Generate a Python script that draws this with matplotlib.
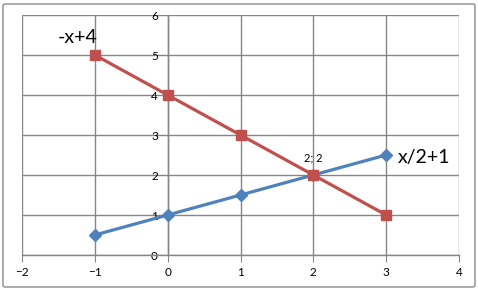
import matplotlib

matplotlib.use("Agg")

import matplotlib.pyplot as plt
from matplotlib.patches import FancyBboxPatch

# data
x_vals = [-1, 0, 1, 2, 3]
line_half = [0.5, 1, 1.5, 2, 2.5]   # x/2+1
line_neg = [5, 4, 3, 2, 1]          # -x+4
x_ticks = [-2, -1, 0, 1, 2, 3, 4]
y_ticks = [0, 1, 2, 3, 4, 5, 6]
cross_pt = (2, 2)

BLUE = "#4F81BD"
RED = "#C0504D"
GRID = "#868686"

plt.rcParams["font.family"] = ["Lato", "DejaVu Sans"]

fig = plt.figure(figsize=(4.78, 2.90), dpi=100)
ax = fig.add_axes([22 / 478, 1 - 255 / 290, (459 - 22) / 478, (255 - 15) / 290])

ax.plot(x_vals, line_half, color=BLUE, lw=2.3, marker="D", ms=6, zorder=3)
ax.plot(x_vals, line_neg, color=RED, lw=2.3, marker="s", ms=6.5, zorder=4)

ax.set_xlim(-2, 4)
ax.set_ylim(0, 6)
ax.set_xticks(x_ticks)
ax.set_yticks(y_ticks)
ax.grid(True, color=GRID, lw=1, zorder=0)

# axes cross at origin, like Excel
ax.spines["left"].set_position(("data", 0))
ax.spines["right"].set_visible(False)
ax.spines["top"].set_visible(False)
for s in ("left", "bottom"):
    ax.spines[s].set_color(GRID)
    ax.spines[s].set_linewidth(1)

ax.tick_params(axis="x", direction="out", length=5, color=GRID, labelsize=8.5, pad=4)
ax.tick_params(axis="y", length=0, labelsize=8.5, pad=7)

ax.text(-1.23, 5.22, "-x+4", fontsize=14, ha="center", va="bottom")
ax.text(3.16, 2.45, "x/2+1", fontsize=14, ha="left", va="center")
ax.text(cross_pt[0], cross_pt[1] + 0.3, f"{cross_pt[0]}; {cross_pt[1]}",
        fontsize=8, ha="center", va="bottom")

border = FancyBboxPatch((3 / 478, 3 / 290), 472 / 478, 283 / 290,
                        boxstyle="round,pad=0,rounding_size=0.005",
                        transform=fig.transFigure, fill=False,
                        edgecolor="#8c8c8c", lw=1)
fig.patches.append(border)

fig.savefig("out.png", dpi=100)
plt.close(fig)
